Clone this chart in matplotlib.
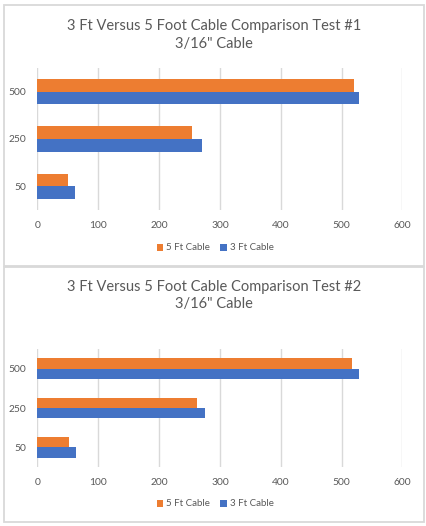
import matplotlib.pyplot as plt
from matplotlib.patches import Rectangle
import numpy as np

categories = ["50", "250", "500"]
test1_5ft = [50, 254, 520]
test1_3ft = [61, 270, 528]
test2_5ft = [52, 262, 517]
test2_3ft = [63, 275, 528]
x_ticks = [0, 100, 200, 300, 400, 500, 600]

titles = ["3 Ft Versus 5 Foot Cable Comparison Test #1\n3/16\" Cable",
          "3 Ft Versus 5 Foot Cable Comparison Test #2\n3/16\" Cable"]

W, H = 427, 526
ORANGE = "#ED7D31"
BLUE = "#4472C4"
GRID = "#D9D9D9"
TXT = "#595959"

plt.rcParams['font.family'] = ['Lato', 'DejaVu Sans']

fig = plt.figure(figsize=(W / 100, H / 100), dpi=100)


def px_axes(x0, y0, x1, y1):
    # pixel box (top-left origin) -> figure axes
    return fig.add_axes([x0 / W, 1 - y1 / H, (x1 - x0) / W, (y1 - y0) / H])


# chart frames
for (y0, y1) in [(5, 266), (267, 522)]:
    fig.add_artist(Rectangle((4.5 / W, 1 - y1 / H), 419.5 / W, (y1 - y0) / H,
                             transform=fig.transFigure, fill=False,
                             edgecolor=GRID, lw=1.3))

layout = [
    # plot box, title y, legend y
    ((37.5, 68, 402.5, 210), 35, 248),
    ((37.5, 349, 402.5, 467), 295.5, 504),
]
data = [(test1_5ft, test1_3ft), (test2_5ft, test2_3ft)]

ypos = np.arange(len(categories))
bh = 0.265

for (box, ty, ly), (v5, v3), title in zip(layout, data, titles):
    ax = px_axes(*box)
    b5 = ax.barh(ypos + bh / 2, v5, height=bh, color=ORANGE, label="5 Ft Cable", zorder=3)
    b3 = ax.barh(ypos - bh / 2, v3, height=bh, color=BLUE, label="3 Ft Cable", zorder=3)
    ax.set_xlim(0, 600)
    ax.set_ylim(-0.5, len(categories) - 0.5)
    ax.set_xticks(x_ticks)
    ax.set_yticks(ypos)
    ax.set_yticklabels(categories)
    ax.grid(axis='x', color=GRID, lw=1.0, zorder=0)
    ax.tick_params(length=0, labelsize=7.4, colors=TXT)
    ax.tick_params(axis='y', pad=8)
    ax.tick_params(axis='x', pad=8)
    for s in ax.spines.values():
        s.set_visible(False)
    fig.text(214 / W, 1 - ty / H, title, ha='center', va='center',
             fontsize=10.5, color=TXT, linespacing=1.3)
    fig.legend(handles=[b5, b3], loc='center', bbox_to_anchor=(215 / W, 1 - ly / H),
               ncol=2, frameon=False, fontsize=7.0, labelcolor=TXT,
               handlelength=0.7, handleheight=0.7, handletextpad=0.3,
               columnspacing=1.0)

fig.savefig("out.png", dpi=100)
